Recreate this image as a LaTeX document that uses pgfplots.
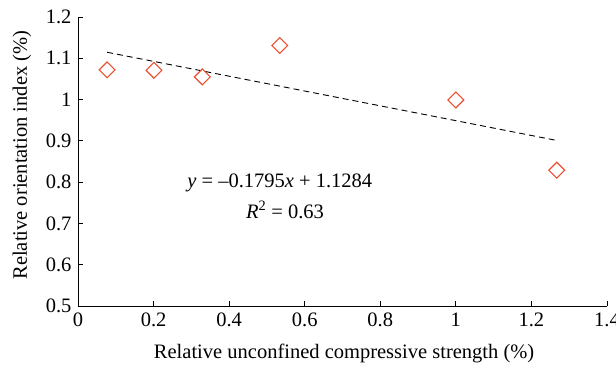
\documentclass[border=0pt]{standalone}
\usepackage{pgfplots}
\pgfplotsset{compat=1.18}
\usepackage{fontspec}
\setmainfont{Liberation Serif}
\definecolor{ptred}{RGB}{236,78,48}
\newcommand{\bigf}{\fontsize{20.5}{24}\selectfont}
\begin{document}
\begin{tikzpicture}
\begin{axis}[
  scale only axis, width=529pt, height=289pt,
  xmin=0, xmax=1.4, ymin=0.5, ymax=1.2,
  axis lines=left, axis line style={-, line width=0.8pt},
  xtick={0,0.2,...,1.4}, ytick={0.5,0.6,...,1.2},
  xticklabels={0,0.2,0.4,0.6,0.8,1,1.2,1.4},
  yticklabels={0.5,0.6,0.7,0.8,0.9,1,1.1,1.2},
  tick align=inside, major tick length=5pt,
  tick style={black, line width=0.8pt},
  ticklabel style={font=\bigf},
  /pgf/number format/assume math mode=true,
  xticklabel style={yshift=-3pt},
  yticklabel style={xshift=-3pt},
  xlabel={Relative unconfined compressive strength (\%)},
  ylabel={Relative orientation index (\%)},
  label style={font=\bigf},
  xlabel style={at={(axis description cs:0.503,0)}, anchor=center, yshift=-47pt},
  ylabel style={at={(axis description cs:0,0.522)}, anchor=center, yshift=56pt},
  clip=false,
]
\addplot[black, line width=0.9pt, dash pattern=on 6pt off 4pt] coordinates {(0.077,1.1146) (1.267,0.9010)};
\addplot[only marks, mark=square, mark size=5.6pt, ptred, line width=1.1pt,
  every mark/.append style={rotate=45}] coordinates {
  (0.077,1.072) (0.201,1.071) (0.329,1.055) (0.534,1.131) (1.0,0.999) (1.267,0.829)};
\node[font=\bigf] at (axis cs:0.534,0.798) {\textit{y} = \textendash0.1795\textit{x} + 1.1284};
\node[font=\bigf] at (axis cs:0.548,0.733) {\textit{R}\textsuperscript{2} = 0.63};
\end{axis}
\pgfresetboundingbox
\path[use as bounding box] (current axis.south west) ++(-78pt,-62pt) rectangle ++(616pt,368pt);
\end{tikzpicture}
\end{document}
